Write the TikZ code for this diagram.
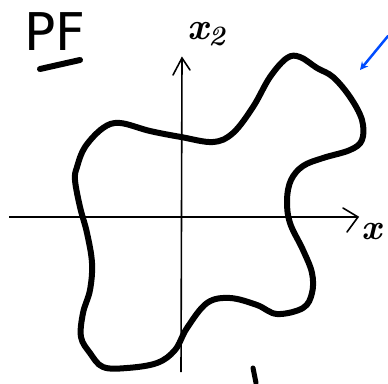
\documentclass[tikz,border=0pt]{standalone}
\usepackage{fontspec}
\setsansfont{DejaVu Sans}
\begin{document}
\begin{tikzpicture}[x=1pt, y=-1pt, axis/.style={line width=1.6pt}, blob/.style={line width=6pt, line join=round}, lbl/.style={inner sep=0pt}, >=stealth]
        \useasboundingbox (0,0) rectangle (388,383);
        \coordinate (xl) at (9,217);
        \coordinate (xr) at (358,217);
        \coordinate (yb) at (181,372);
        \coordinate (yt) at (182,58);
        \draw[axis] (xl) -- (xr);
        \draw[axis] (yb) -- (yt);
        \draw[axis, line cap=round] (343,208) -- (xr) -- (347,232);
        \draw[axis, line cap=round] (173,75) -- (yt) -- (190,70);
        \node[lbl] (x2) at (206,34) {\fontsize{38}{38}\selectfont\bfseries\itshape x\raisebox{-6pt}{\fontsize{28}{28}\selectfont 2}};
        \node[lbl] (x1) at (372,232) {\fontsize{36}{36}\selectfont\bfseries\itshape x};
        \node[lbl] (pf) at (55,32) {\fontsize{52}{52}\selectfont\sffamily PF};
        \draw[line width=6pt, line cap=round] (40,69) -- (80,60);
        \draw[blob] plot[smooth cycle, tension=0.6] coordinates {(120,123) (150,131) (181,137) (213,142) (233,133) (253,107) (270,77) (287,58) (300,57) (317,68) (333,77) (350,97) (362,120) (362,140) (350,150) (323,158) (303,166) (291,180) (287,200) (290,223) (303,250) (312,273) (312,293) (303,308) (277,314) (257,305) (230,298) (207,303) (187,328) (175,350) (157,363) (127,368) (103,367) (90,353) (81,337) (83,313) (90,290) (92,263) (87,233) (80,207) (75,180) (77,167) (85,147) (103,128)};
        \draw[blue!70!cyan, line width=2.5pt, ->, line cap=round] (388,36) -- (360,70);
        \draw[line width=5pt, line cap=round] (253,368) -- (256,383);
    \end{tikzpicture}
\end{document}
